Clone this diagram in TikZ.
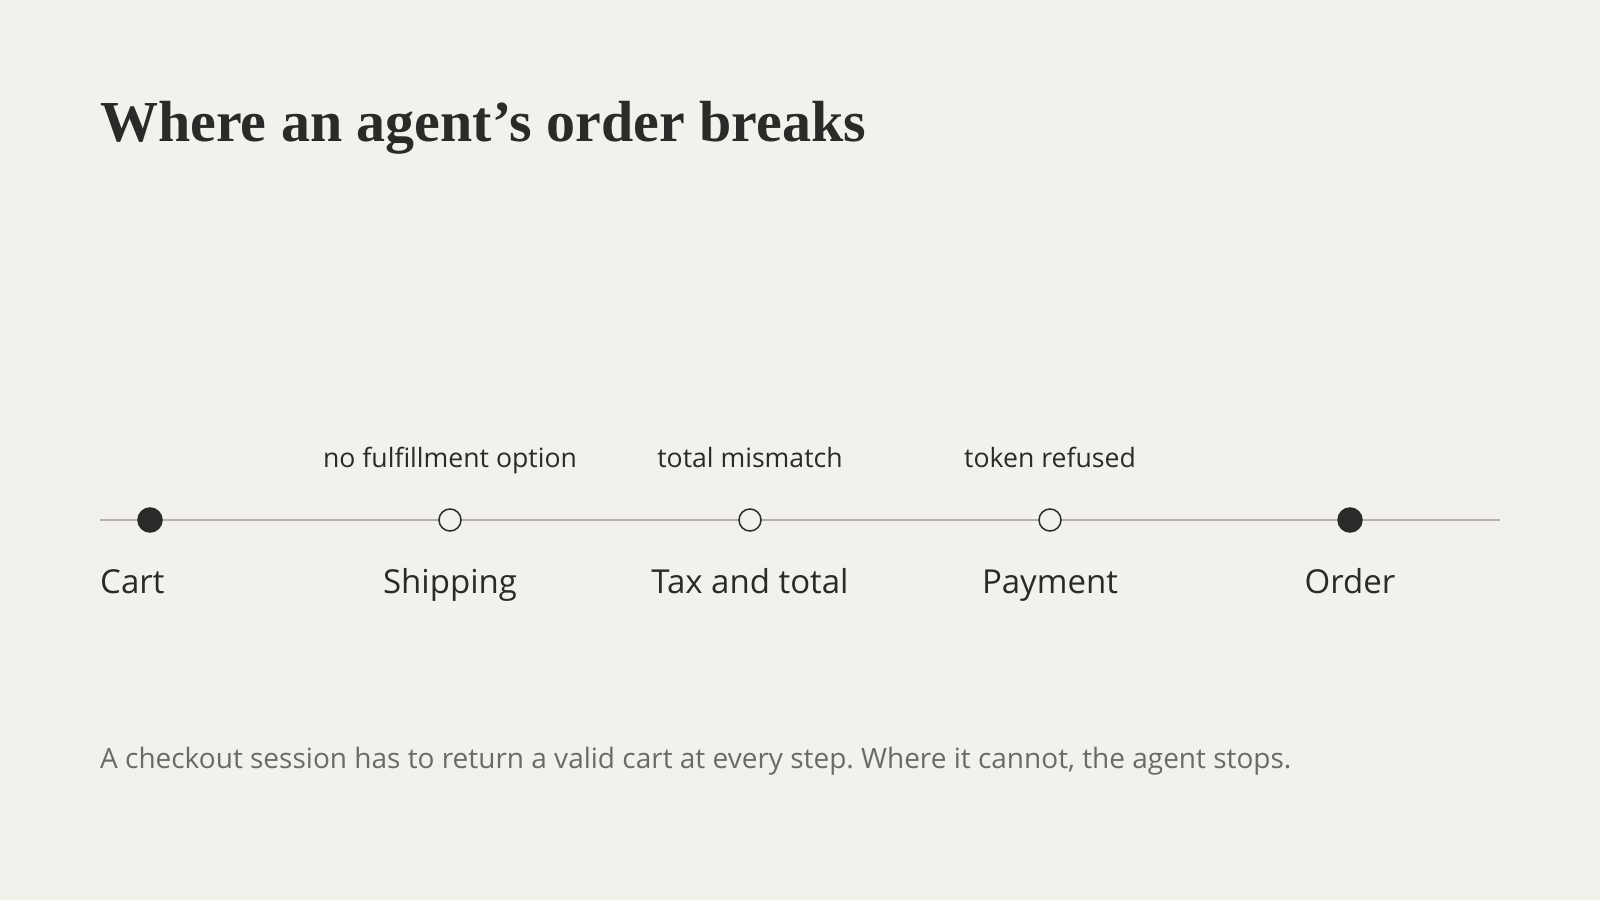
\documentclass[tikz,border=0pt]{standalone}
\usepackage{fontspec}
\setmainfont{Liberation Serif}
\setsansfont{Open Sans}
\usetikzlibrary{positioning}
\definecolor{paper}{HTML}{F3F1EC}
\definecolor{ink}{HTML}{2A2A28}
\definecolor{rulegray}{HTML}{B5B2AB}
\definecolor{notegray}{HTML}{6B6A66}
\frenchspacing

\begin{document}
\begin{tikzpicture}[x=1pt,y=-1pt,
  fulldot/.style={circle,draw=ink,line width=1.5pt,fill=ink,minimum size=24pt,inner sep=0pt},
  emptydot/.style={fulldot,fill=paper,minimum size=22pt},
  steplabel/.style={font=\sffamily\fontsize{33}{38}\selectfont,text=ink,inner sep=0pt,anchor=base},
  breaklabel/.style={font=\sffamily\fontsize{26.6}{32}\selectfont,text=ink,inner sep=0pt,anchor=base}]
%draw page:
\fill[paper] (0,0) rectangle (1600,900);
\useasboundingbox (0,0) rectangle (1600,900);
%draw title:
\node[anchor=base west,inner sep=0pt,text=ink,font=\bfseries\fontsize{58}{66}\selectfont] (title) at (100,141) {Where an agent’s order breaks};
%draw line:
\coordinate (lstart) at (100,520);
\coordinate (lend) at (1500,520);
\draw[rulegray,line width=1.6pt] (lstart) -- (lend);
%draw steps:
\node[fulldot] (cart) at (150,520) {};
\node[emptydot] (ship) at (450,520) {};
\node[emptydot] (tax) at (750,520) {};
\node[emptydot] (pay) at (1050,520) {};
\node[fulldot] (order) at (1350,520) {};
%draw labels:
\node[steplabel,anchor=base west] (cartlbl) at ([yshift=-73pt]lstart) {Cart};
\node[steplabel] (shiplbl) at ([yshift=-73pt]ship.center) {Shipping};
\node[steplabel] (taxlbl) at ([yshift=-73pt]tax.center) {Tax and total};
\node[steplabel] (paylbl) at ([yshift=-73pt]pay.center) {Payment};
\node[steplabel] (orderlbl) at ([yshift=-73pt]order.center) {Order};
\node[breaklabel] (shipbrk) at ([yshift=53pt]ship.center) {no fulfillment option};
\node[breaklabel] (taxbrk) at ([yshift=53pt]tax.center) {total mismatch};
\node[breaklabel] (paybrk) at ([yshift=53pt]pay.center) {token refused};
%draw note:
\node[anchor=base west,inner sep=0pt,text=notegray,font=\sffamily\fontsize{28}{32}\selectfont] (note) at (100,768) {A checkout session has to return a valid cart at every step. Where it cannot, the agent stops.};
\end{tikzpicture}
\end{document}
